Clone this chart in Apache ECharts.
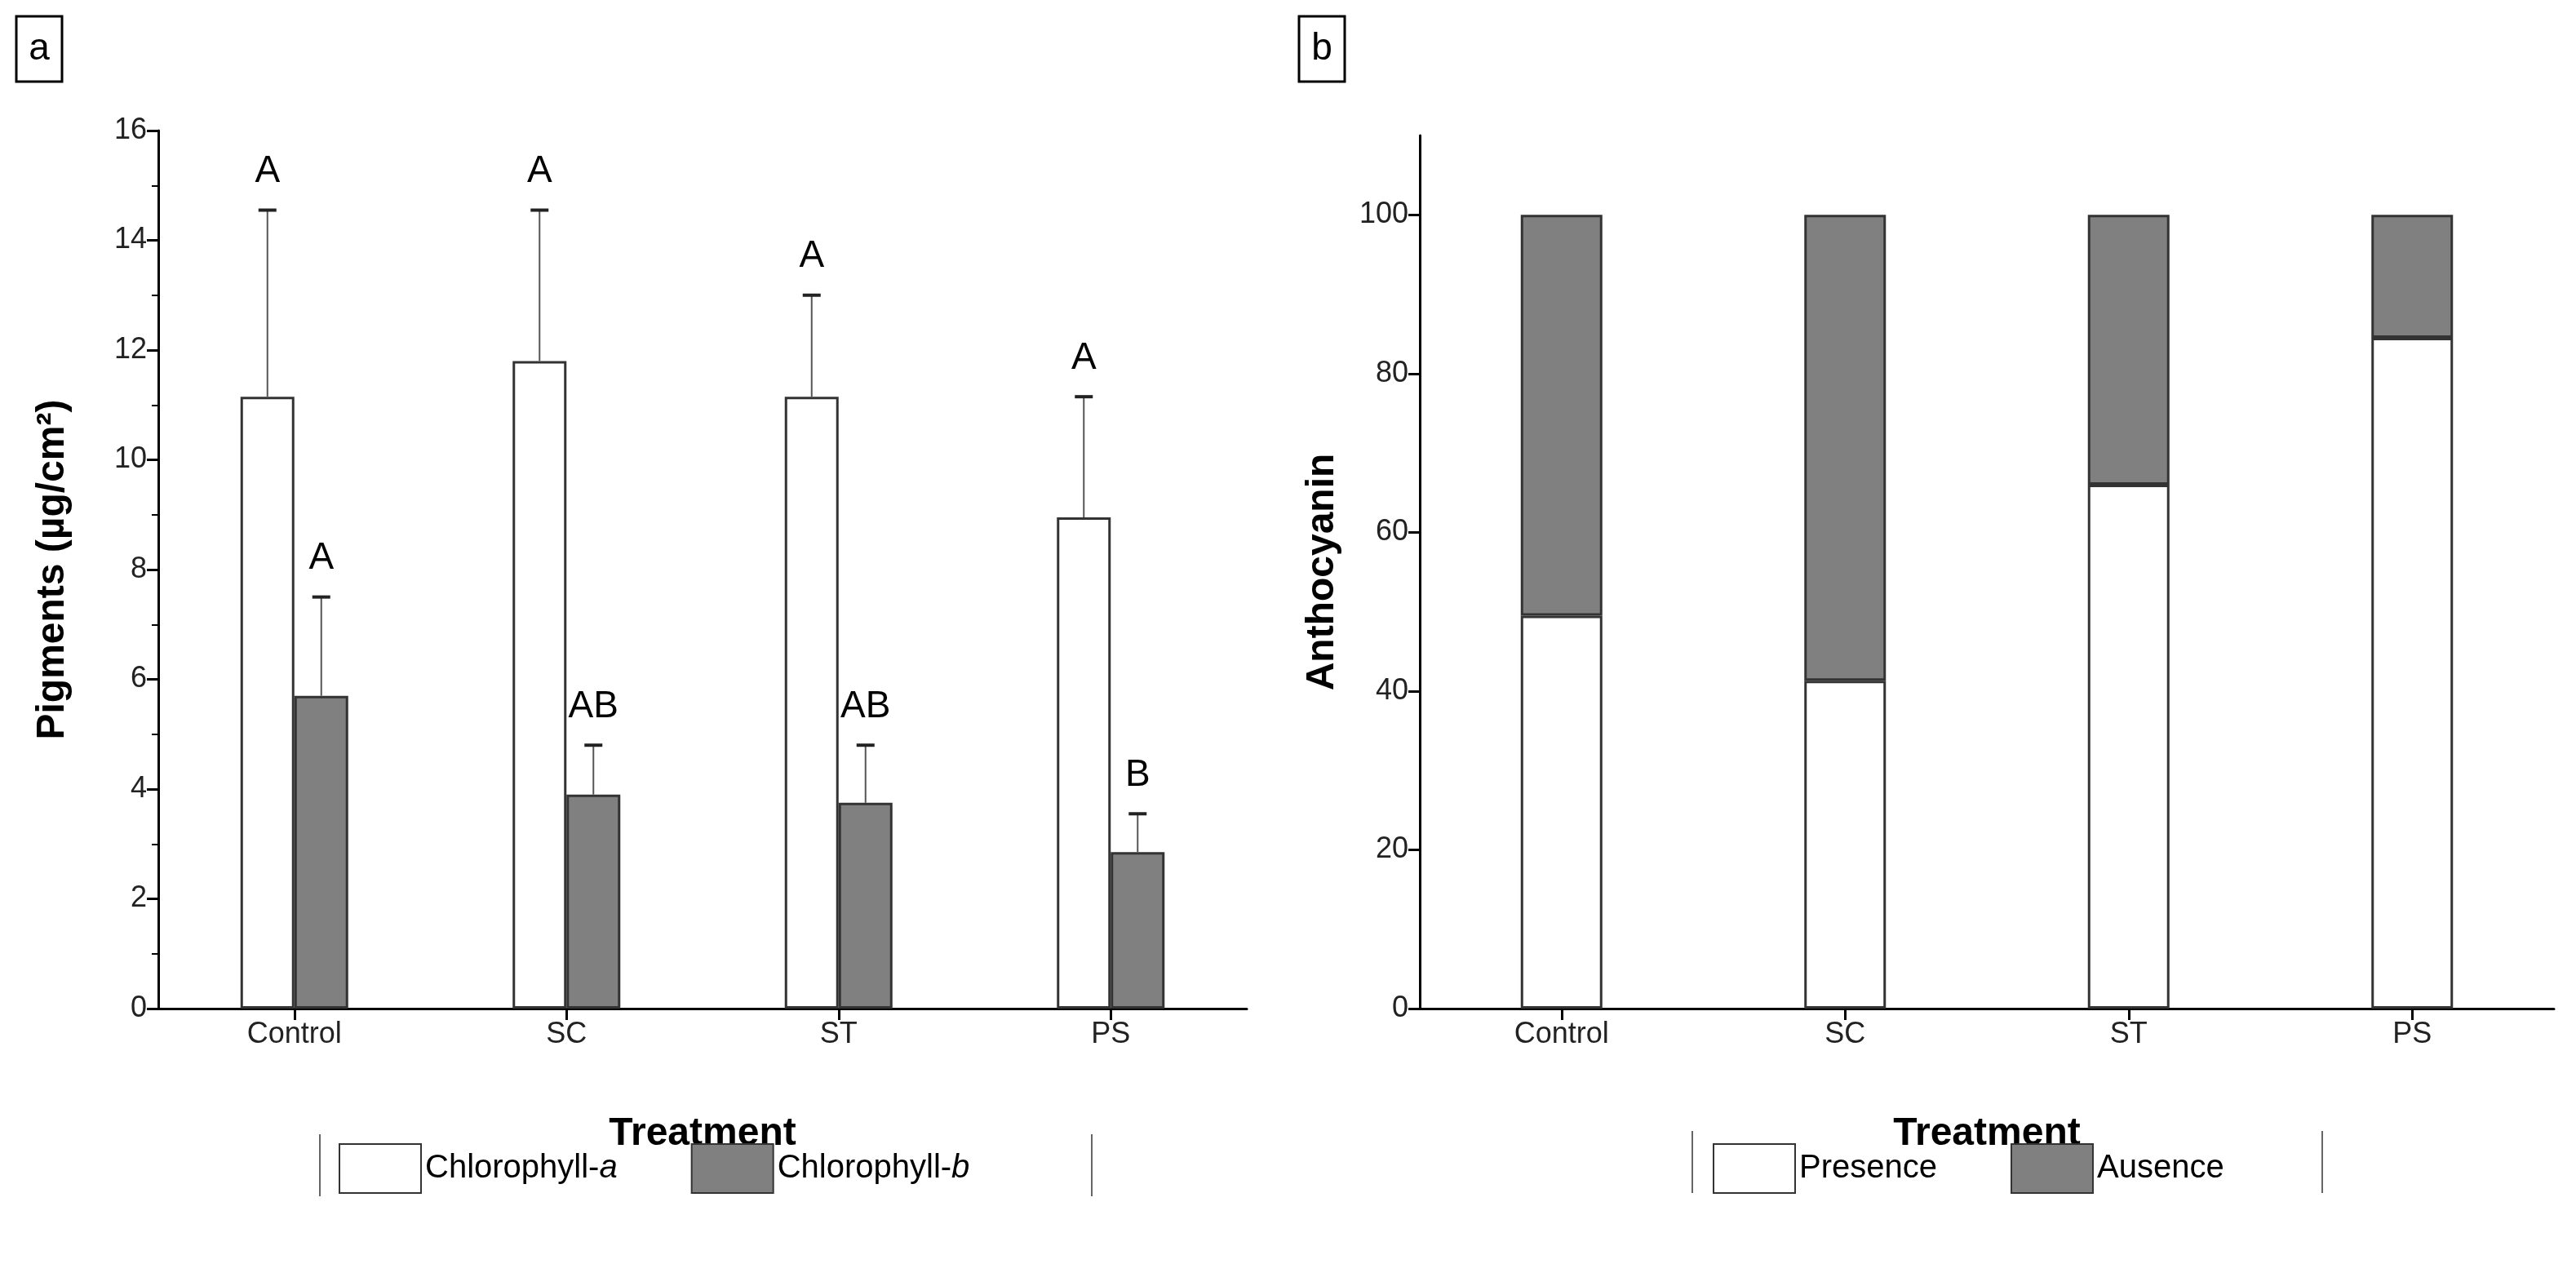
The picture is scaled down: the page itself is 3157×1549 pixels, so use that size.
<!DOCTYPE html>
<html><head><meta charset="utf-8">
<script src="https://cdn.jsdelivr.net/npm/echarts@6/dist/echarts.min.js"></script>
<style>html,body{margin:0;padding:0;background:#fff}#main{width:3157px;height:1549px}</style>
</head><body><div id="main"></div>
<script>
// data
let treatments = ['Control', 'SC', 'ST', 'PS']
let chlA = [11.15, 11.8, 11.15, 8.95]
let chlAErrTop = [14.55, 14.55, 13.0, 11.15]
let chlALetters = ['A', 'A', 'A', 'A']
let chlB = [5.7, 3.9, 3.75, 2.85]
let chlBErrTop = [7.5, 4.8, 4.8, 3.55]
let chlBLetters = ['A', 'AB', 'AB', 'B']
let presence = [49.5, 41.3, 66, 84.5]
let absence = [50.5, 58.7, 34, 15.5]

let font = 'Liberation Sans'
let S = 2 // reference was read at half scale
let myChart = echarts.init(document.getElementById('main'))

function errSeries(tops, bases, letters, offset) {
	return {
		type: 'custom', xAxisIndex: 0, yAxisIndex: 0, z: 5,
		data: tops.map(function (t, i) { return [i, t, bases[i]] }),
		renderItem: function (params, api) {
			let top = api.coord([api.value(0), api.value(1)])
			let base = api.coord([api.value(0), api.value(2)])
			let x = top[0] + offset
			return {
				type: 'group', children: [
					{ type: 'line', shape: { x1: x, y1: base[1], x2: x, y2: top[1] }, style: { stroke: '#555', lineWidth: 2 } },
					{ type: 'line', shape: { x1: x - 11, y1: top[1], x2: x + 11, y2: top[1] }, style: { stroke: '#222', lineWidth: 4 } },
					{ type: 'text', x: x, y: top[1] - 24, style: { text: letters[params.dataIndex], font: '46px ' + font, fill: '#000', align: 'center', verticalAlign: 'bottom' } }
				]
			}
		}
	}
}

let axisCommon = {
	axisLine: { show: true, lineStyle: { color: '#000', width: 3 } },
	axisTick: { show: true, inside: false, length: 14, lineStyle: { color: '#000', width: 3 } },
	axisLabel: { color: '#222', fontSize: 36, fontFamily: font, margin: 14 },
	splitLine: { show: false },
	nameTextStyle: { color: '#000', fontSize: 48, fontWeight: 'bold', fontFamily: font }
}
let xTick = Object.assign({}, axisCommon.axisTick, { alignWithLabel: true })
let legText = {
	fontSize: 40, fontFamily: font, color: '#000',
	rich: { i: { fontSize: 40, fontFamily: font, fontStyle: 'italic', color: '#000' } }
}

var option = {
	animation: false,
	grid: [
		{ left: 97 * S, top: 80 * S, width: 667 * S, height: 538 * S },
		{ left: 870 * S, top: 83 * S, width: 695 * S, height: 535 * S }
	],
	xAxis: [
		Object.assign({}, axisCommon, { type: 'category', gridIndex: 0, data: treatments, name: 'Treatment', nameLocation: 'middle', nameGap: 130, axisTick: xTick }),
		Object.assign({}, axisCommon, { type: 'category', gridIndex: 1, data: treatments, name: 'Treatment', nameLocation: 'middle', nameGap: 130, axisTick: xTick })
	],
	yAxis: [
		Object.assign({}, axisCommon, { type: 'value', gridIndex: 0, min: 0, max: 16, interval: 2, name: 'Pigments (µg/cm²)', nameLocation: 'middle', nameGap: 105, minorTick: { show: true, splitNumber: 2, length: 8, lineStyle: { color: '#000', width: 2 } } }),
		Object.assign({}, axisCommon, { type: 'value', gridIndex: 1, min: 0, max: 110, interval: 20, name: 'Anthocyanin', nameLocation: 'middle', nameGap: 95, axisTick: Object.assign({}, axisCommon.axisTick, { customValues: [0, 20, 40, 60, 80, 100] }), axisLabel: Object.assign({}, axisCommon.axisLabel, { customValues: [0, 20, 40, 60, 80, 100] }) })
	],
	legend: [
		{ data: ['Chlorophyll-a', 'Chlorophyll-b'], left: 205 * S, top: 1396, icon: 'rect', itemWidth: 100, itemHeight: 60, itemGap: 90, textStyle: legText,
		  formatter: function (n) { return n.slice(0, -1) + '{i|' + n.slice(-1) + '}' } },
		{ data: ['Presence', 'Ausence'], left: 1047 * S, top: 1396, icon: 'rect', itemWidth: 100, itemHeight: 60, itemGap: 90, textStyle: legText }
	],
	graphic: [
		{ type: 'rect', shape: { x: 20, y: 20, width: 56, height: 80 }, style: { fill: 'none', stroke: '#000', lineWidth: 3 } },
		{ type: 'text', x: 48, y: 60, style: { text: 'a', font: '46px ' + font, align: 'center', verticalAlign: 'middle' } },
		{ type: 'rect', shape: { x: 1592, y: 20, width: 56, height: 80 }, style: { fill: 'none', stroke: '#000', lineWidth: 3 } },
		{ type: 'text', x: 1620, y: 60, style: { text: 'b', font: '46px ' + font, align: 'center', verticalAlign: 'middle' } },
		{ type: 'line', shape: { x1: 392, y1: 1390, x2: 392, y2: 1466 }, style: { stroke: '#666', lineWidth: 2 } },
		{ type: 'line', shape: { x1: 1338, y1: 1390, x2: 1338, y2: 1466 }, style: { stroke: '#666', lineWidth: 2 } },
		{ type: 'line', shape: { x1: 2074, y1: 1386, x2: 2074, y2: 1462 }, style: { stroke: '#666', lineWidth: 2 } },
		{ type: 'line', shape: { x1: 2846, y1: 1386, x2: 2846, y2: 1462 }, style: { stroke: '#666', lineWidth: 2 } }
	],
	series: [
		{ name: 'Chlorophyll-a', type: 'bar', xAxisIndex: 0, yAxisIndex: 0, data: chlA, barWidth: 66, barGap: '0%', itemStyle: { color: '#fff', borderColor: '#333', borderWidth: 3 } },
		{ name: 'Chlorophyll-b', type: 'bar', xAxisIndex: 0, yAxisIndex: 0, data: chlB, barWidth: 66, itemStyle: { color: '#808080', borderColor: '#333', borderWidth: 3 } },
		errSeries(chlAErrTop, chlA, chlALetters, -33),
		errSeries(chlBErrTop, chlB, chlBLetters, 33),
		{ name: 'Presence', type: 'bar', stack: 'antho', xAxisIndex: 1, yAxisIndex: 1, data: presence, barWidth: 100, itemStyle: { color: '#fff', borderColor: '#333', borderWidth: 3 } },
		{ name: 'Ausence', type: 'bar', stack: 'antho', xAxisIndex: 1, yAxisIndex: 1, data: absence, barWidth: 100, itemStyle: { color: '#808080', borderColor: '#333', borderWidth: 3 } }
	]
}
myChart.setOption(option)
</script>
</body></html>
